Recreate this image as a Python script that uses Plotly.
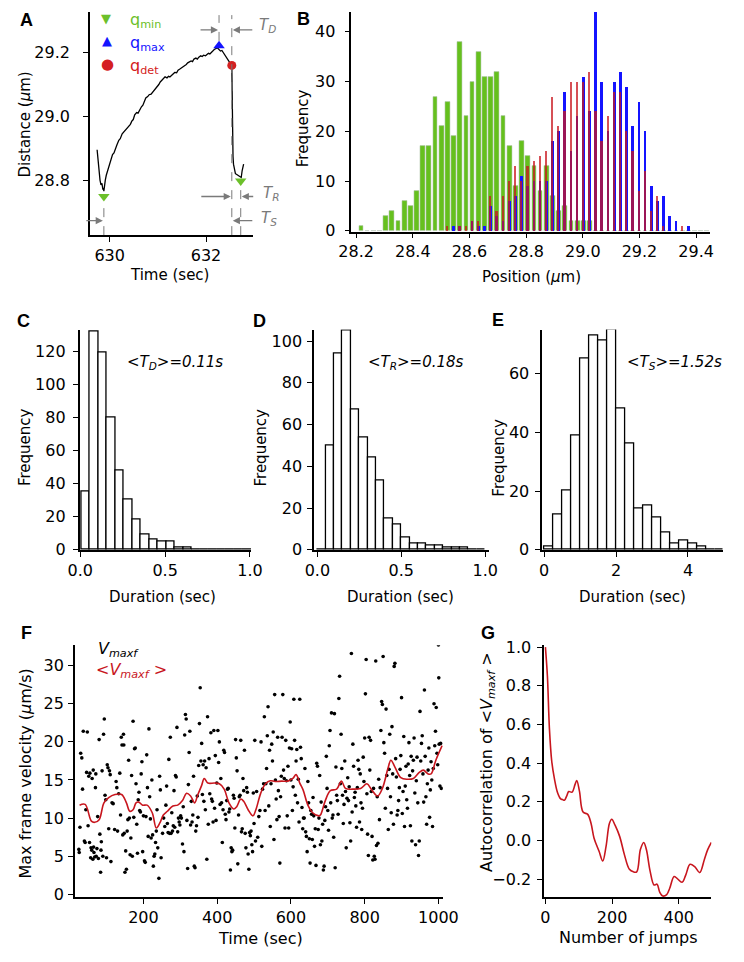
import plotly.graph_objects as go

W, H = 744, 962
def px(x): return x / W
def py(y): return 1 - y / H

# ---------------- Panel A data ----------------
a_trace = [
    (629.74, 28.895), (629.76, 28.86), (629.78, 28.82), (629.80, 28.80), (629.82, 28.785),
    (629.84, 28.79), (629.86, 28.77), (629.87, 28.775), (629.88, 28.765), (629.89, 28.78),
    (629.91, 28.80), (629.93, 28.815), (629.96, 28.83), (629.99, 28.85), (630.03, 28.865),
    (630.06, 28.88), (630.09, 28.885), (630.12, 28.90), (630.15, 28.91), (630.19, 28.925),
    (630.22, 28.93), (630.26, 28.945), (630.29, 28.95), (630.32, 28.955), (630.36, 28.962),
    (630.39, 28.968), (630.43, 28.975), (630.46, 28.985), (630.49, 28.99), (630.52, 29.005),
    (630.56, 29.012), (630.59, 29.01), (630.62, 29.02), (630.66, 29.03), (630.69, 29.035),
    (630.72, 29.05), (630.75, 29.058), (630.79, 29.062), (630.82, 29.068), (630.86, 29.07),
    (630.89, 29.075), (630.92, 29.08), (630.95, 29.088), (630.99, 29.095), (631.02, 29.10),
    (631.05, 29.108), (631.09, 29.115), (631.12, 29.12), (631.15, 29.124), (631.19, 29.121),
    (631.22, 29.126), (631.25, 29.124), (631.29, 29.13), (631.32, 29.133), (631.35, 29.138),
    (631.39, 29.137), (631.42, 29.145), (631.45, 29.148), (631.49, 29.152), (631.52, 29.157),
    (631.55, 29.16), (631.59, 29.163), (631.62, 29.168), (631.65, 29.17), (631.69, 29.174),
    (631.72, 29.172), (631.75, 29.18), (631.79, 29.183), (631.82, 29.18), (631.85, 29.186),
    (631.89, 29.19), (631.92, 29.188), (631.95, 29.192), (631.99, 29.19), (632.02, 29.195),
    (632.05, 29.198), (632.08, 29.196), (632.11, 29.202), (632.14, 29.205), (632.17, 29.21),
    (632.20, 29.212), (632.23, 29.215), (632.25, 29.213), (632.27, 29.21), (632.30, 29.205),
    (632.33, 29.207), (632.36, 29.20), (632.39, 29.19), (632.42, 29.182), (632.45, 29.176),
    (632.48, 29.17), (632.51, 29.165), (632.535, 29.16), (632.54, 29.08), (632.545, 28.98),
    (632.55, 28.92), (632.56, 28.875), (632.57, 28.85), (632.59, 28.83), (632.61, 28.82),
    (632.63, 28.818), (632.65, 28.816), (632.67, 28.815), (632.69, 28.813), (632.71, 28.81),
    (632.73, 28.808), (632.75, 28.83), (632.77, 28.845), (632.78, 28.85),
]
a_qmin_t = [629.88, 632.72]
a_qmin_d = [28.748, 28.797]
a_qmax_t = [632.27]
a_qmax_d = [29.222]
a_qdet_t = [632.535]
a_qdet_d = [29.16]
a_xrange = [629.59, 632.98]
a_yrange = [28.627, 29.328]

# ---------------- Panel B data ----------------
b_bin_start = 28.218
b_bin_width = 0.0218
b_green = [1, 0, 0, 0, 3, 4, 2, 6, 5, 8, 17, 17, 27, 21, 26, 19, 38, 23, 30, 36,
           31, 31, 32, 23, 17, 9, 18, 15, 13, 8, 13, 7, 4, 5, 2, 2, 2, 2, 0, 0,
           0, 0, 0, 0, 0, 0, 0, 0, 0, 0, 0, 0, 0, 0, 0, 0, 0]
b_blue = [0, 0, 0, 0, 0, 0, 0, 0, 0, 0, 0, 0, 0, 0, 0, 1, 1, 0, 2, 1,
          1, 5, 3, 2, 6, 7, 11, 9, 10, 10, 10, 18, 20, 28, 16, 23, 31, 24, 44, 30,
          20, 30, 32, 29, 21, 26, 20, 9, 6, 7, 3, 2, 0, 1, 0, 0, 0]
b_red = [0, 0, 0, 0, 0, 0, 0, 0, 0, 0, 0, 0, 0, 0, 1, 0, 1, 1, 2, 2,
         0, 7, 4, 7, 10, 13, 10, 13, 14, 15, 16, 27, 21, 24, 30, 30, 30, 32, 24, 18,
         23, 28, 28, 20, 16, 8, 12, 4, 7, 1, 0, 0, 1, 0, 0, 0, 0]
b_centers = [round(b_bin_start + i * b_bin_width, 4) for i in range(len(b_green))]

# ---------------- Panels C, D, E data ----------------
c_bin_start, c_bin_width = 0.007, 0.05
c_counts = [35, 132, 119, 80, 48, 30, 18, 9, 6, 5, 5, 1, 1, 0, 0, 0, 0, 0, 0, 0]
d_bin_start, d_bin_width = 0.0, 0.05
d_counts = [0, 50, 94, 105, 67, 54, 44, 33, 15, 12, 6, 3, 3, 2, 2, 1, 1, 1, 0, 0]
e_bin_start, e_bin_width = 0.0, 0.25
e_counts = [1, 12, 20, 39, 65, 73, 71, 75, 48, 36, 14, 15, 11, 6, 2, 3, 2, 1, 0, 0]

def centers(start, width, n):
    return [start + width * (i + 0.5) for i in range(n)]

# ---------------- Panel F data ----------------
f_scatter = [
    (25,5.9),(26,5.5),(28,8.8),(30,18.5),(33,17.9),(35,13.8),(37,21.4),(40,7.0),(42,6.8),(44,11.1),
    (46,16.0),(48,21.3),(50,9.0),(52,15.5),(54,6.8),(55,15.9),(57,4.8),(58,6.1),(60,5.8),(61,15.2),
    (63,4.6),(64,16.3),(65,6.2),(66,5.5),(68,4.9),(70,14.0),(71,15.8),(72,5.0),(74,6.0),(76,10.2),
    (78,4.7),(80,20.3),(82,7.9),(84,2.9),(85,5.8),(86,6.9),(88,16.2),(90,5.0),(92,21.0),(94,23.0),
    (96,13.0),(98,12.4),(100,4.8),
    (102,17.0),(104,16.6),(106,8.6),(108,16.2),(110,15.7),(112,4.3),(115,12.0),(118,11.9),(122,8.5),(126,14.8),
    (128,14.0),(130,8.3),(133,13.2),(136,15.9),(138,10.4),(140,20.6),(142,19.6),(144,7.8),(146,21.0),(147,19.6),
    (148,8.0),(150,2.9),(152,5.7),(154,3.3),(156,8.3),(158,9.8),(160,17.6),(162,10.0),(164,5.2),(166,7.4),
    (168,15.6),(170,5.0),(172,22.7),(174,10.1),(176,19.1),(178,19.2),(180,14.5),(182,9.2),(184,5.4),(186,12.4),
    (188,13.4),(190,11.0),(192,10.8),(194,15.8),(196,17.4),(198,5.6),
    (200,10.3),(203,4.4),(205,4.2),(207,10.2),(209,18.3),(211,14.0),(213,7.6),(215,21.7),(217,12.8),(219,9.9),
    (221,7.4),(223,15.0),(225,7.8),(227,3.7),(229,5.0),(231,5.3),(233,6.8),(235,8.3),(237,11.1),(239,6.1),
    (242,2.1),(244,15.5),(246,13.7),(248,4.8),(252,8.0),(255,10.0),(258,8.9),(261,11.7),(263,14.2),(265,9.3),
    (267,8.1),(269,17.7),(271,8.0),(273,20.6),(275,8.0),(277,10.7),(279,8.3),(281,9.0),(283,13.6),(285,8.8),
    (287,15.6),(289,15.4),(291,21.9),(293,8.2),(295,10.0),(297,9.5),(299,9.1),
    (301,10.3),(303,10.0),(306,6.6),(308,11.5),(310,5.6),(312,20.9),(314,23.6),(316,23.0),(318,9.7),(320,3.4),
    (322,14.4),(324,18.6),(326,21.4),(328,9.1),(330,12.2),(332,9.5),(334,10.4),(336,15.5),(338,3.7),(340,3.5),
    (342,8.3),(344,9.0),(346,12.9),(348,10.1),(350,16.9),(352,22.4),(354,27.1),(356,17.5),(358,19.8),(360,13.1),
    (362,17.0),(364,12.2),(366,17.5),(368,11.1),(370,16.6),(372,4.6),(374,23.3),(376,9.2),(378,17.8),(380,13.2),
    (383,21.2),(385,12.5),(387,12.2),(389,9.5),(391,21.5),(393,11.3),(395,18.2),(397,9.7),(399,14.6),
    (402,21.5),(404,17.3),(406,20.0),(408,11.8),(410,15.2),(412,12.0),(414,6.8),(416,11.1),(418,18.9),(420,18.6),
    (422,10.5),(424,9.8),(426,12.3),(428,13.8),(430,13.9),(432,10.8),(434,11.2),(436,3.2),(438,6.1),(440,5.6),
    (442,5.8),(444,13.0),(446,12.6),(448,8.7),(450,20.3),(452,17.9),(454,16.2),(456,4.0),(458,10.4),(460,12.8),
    (462,13.0),(464,20.2),(466,8.2),(468,8.6),(470,15.2),(472,13.6),(474,18.9),(476,8.0),(478,6.1),(480,14.0),
    (482,13.4),(484,5.3),(486,3.3),(488,8.1),(490,7.7),(492,8.3),(494,6.5),(496,5.6),(498,13.3),(500,9.3),
    (502,20.2),(504,7.0),(507,13.5),(510,7.5),(513,10.2),(516,11.0),(519,20.0),(521,6.3),(523,13.8),(526,14.5),
    (528,23.3),(530,11.0),(532,14.5),(534,16.5),(536,20.8),(538,24.6),(540,11.6),(542,18.9),(544,8.9),(546,14.5),
    (548,19.7),(550,17.5),(552,21.3),(554,7.2),(556,26.2),(558,15.0),(560,12.5),(562,9.8),(564,20.6),(566,13.6),
    (568,10.2),(570,4.1),(572,12.8),(574,15.5),(576,20.6),(578,26.2),(580,16.3),(582,15.2),(584,8.7),(586,20.2),
    (588,14.9),(590,10.3),(592,16.8),(594,8.7),(596,19.2),(598,22.6),
    (600,15.0),(602,19.1),(604,11.0),(606,14.1),(608,25.6),(610,20.2),(612,13.0),(614,17.5),(616,19.0),(618,12.0),
    (620,15.1),(622,9.5),(624,25.6),(626,19.3),(628,17.8),(630,11.4),(632,8.6),(634,10.0),(636,10.0),(638,16.5),
    (640,8.2),(642,7.6),(644,5.6),(646,14.8),(648,12.0),(650,7.3),(652,4.1),(654,11.0),(656,10.5),(658,7.2),
    (660,12.7),(662,10.3),(664,6.3),(666,8.6),(668,3.8),(670,17.2),(672,16.8),(674,8.5),(676,10.0),(678,15.6),
    (680,6.5),(682,12.1),(684,7.0),(686,9.2),(688,3.2),(690,3.7),(692,9.7),(694,11.5),(696,18.1),(698,13.9),
    (700,11.0),(702,8.4),(704,19.5),(706,21.5),(708,12.0),(710,23.8),(712,10.0),(714,10.4),(716,7.5),(718,23.7),
    (720,3.5),(722,16.7),(724,13.0),(726,12.3),(728,10.5),(730,25.7),(732,28.6),(734,14.5),(736,21.0),(738,16.5),
    (740,13.0),(742,9.3),(744,11.8),(746,17.5),(748,13.5),(750,6.1),(752,12.6),(754,15.3),(756,12.3),(758,14.1),
    (760,9.4),(762,7.0),(764,31.6),(766,10.8),(768,19.7),(770,16.8),(772,12.7),(774,13.4),(776,11.6),(778,8.8),
    (780,14.0),(782,17.6),(784,16.4),(786,9.5),(788,15.8),(790,12.0),(792,8.5),(794,11.3),(796,18.0),(798,14.8),
    (800,20.5),(802,26.3),(804,30.8),(806,13.2),(808,7.9),(810,5.1),(812,20.6),(814,16.3),(816,20.2),(818,13.5),
    (820,7.6),(822,4.5),(824,13.9),(826,5.0),(828,4.6),(830,30.6),(832,6.4),(834,12.8),(836,6.7),(838,15.1),
    (840,9.8),(842,14.0),(844,21.5),(846,25.3),(848,24.9),(850,31.2),(852,19.9),(854,18.5),(856,11.3),(858,24.3),
    (860,15.6),(862,13.9),(864,8.5),(866,16.4),(868,21.0),(870,12.8),(872,10.7),(874,22.0),(876,15.8),(878,9.2),
    (880,29.9),(882,30.3),(884,17.8),(886,15.4),(888,10.4),(890,11.0),(892,12.3),(894,14.0),(896,16.4),(898,18.2),
    (900,25.8),(902,10.6),(904,13.5),(906,20.7),(908,8.9),(910,14.2),(912,16.8),(914,12.4),(916,11.3),(918,17.1),
    (920,19.9),(922,15.6),(924,9.0),(926,18.1),(928,7.0),(930,16.2),(932,17.6),(934,20.5),(936,13.3),(938,6.5),
    (940,14.9),(942,18.0),(944,12.0),(946,5.1),(948,7.0),(950,24.0),(952,17.5),(954,19.8),(956,20.8),(958,15.8),
    (960,12.1),(962,26.8),(964,18.1),(966,12.8),(968,9.2),(970,14.5),(972,16.3),(974,19.2),(976,10.1),(978,13.7),
    (980,17.4),(982,15.0),(984,8.9),(986,16.5),(988,25.0),(990,19.5),(992,21.4),(994,24.5),(996,18.5),(998,17.0),
    (1000,32.7),(1001,28.4),(1002,19.7),(1004,14.2),(1006,19.8),(1008,13.9),
]
f_avg_t = [27, 42, 59, 68, 80, 93, 106, 123, 141, 154, 163, 172, 180, 187, 198, 210, 224, 235, 245, 254,
           265, 280, 293, 306, 317, 328, 339, 347, 358, 365, 375, 393, 406, 419, 432, 445, 453, 464, 472, 484,
           497, 505, 518, 531, 544, 557, 575, 592, 605, 614, 624, 633, 646, 659, 676, 680, 694, 707, 724, 737,
           748, 767, 789, 806, 819, 835, 848, 863, 871, 882, 898, 915, 932, 948, 959, 972, 980, 993, 1010]
f_avg_v = [11.7, 11.8, 9.6, 9.45, 9.8, 12.0, 12.7, 13.1, 13.1, 12.0, 10.9, 11.1, 12.0, 12.1, 11.7, 11.7, 10.7, 8.7, 9.4, 10.4,
           10.9, 11.6, 11.7, 12.3, 13.25, 12.9, 12.0, 13.0, 14.3, 15.2, 14.6, 14.6, 14.5, 13.8, 12.0, 11.2, 11.5, 12.5, 12.2, 11.1,
           10.3, 11.1, 13.25, 14.5, 14.9, 14.8, 14.85, 14.85, 15.2, 15.7, 14.6, 13.7, 11.7, 10.7, 10.3, 10.4, 12.4, 13.6, 13.8, 14.85,
           13.9, 13.8, 13.9, 14.5, 13.7, 12.9, 13.9, 16.5, 17.6, 16.7, 15.3, 15.1, 15.2, 16.0, 16.3, 15.8, 15.8, 17.6, 19.5]

# ---------------- Panel G data ----------------
g_lag = [0, 6, 12, 19, 27, 36, 46, 51, 57, 65, 70, 80, 89, 94, 102, 113, 127, 137, 146, 161,
         172, 182, 192, 199, 209, 223, 237, 252, 264, 274, 285, 295, 303, 314, 326, 335, 343, 352, 364, 373,
         386, 395, 410, 421, 434, 448, 463, 477, 487, 498]
g_acf = [1.0, 0.85, 0.58, 0.41, 0.32, 0.25, 0.215, 0.212, 0.208, 0.235, 0.253, 0.25, 0.29, 0.31, 0.257, 0.147, 0.135, 0.088, 0.012, -0.056,
         -0.106, -0.03, 0.088, 0.11, 0.079, 0.02, -0.073, -0.149, -0.162, -0.162, -0.047, -0.01, -0.047, -0.157, -0.23, -0.226, -0.267, -0.287, -0.28, -0.247,
         -0.186, -0.196, -0.216, -0.179, -0.123, -0.135, -0.166, -0.098, -0.047, -0.01]

# ---------------- colours ----------------
GREEN = "#66c01e"
BLUE = "#1414ff"
RED = "#c8161e"
GRAY = "#7a7a7a"
FONT = "DejaVu Sans"

fig = go.Figure()

# Panel A
fig.add_trace(go.Scatter(x=[p[0] for p in a_trace], y=[p[1] for p in a_trace], mode="lines",
                         line=dict(color="black", width=1.3), xaxis="x", yaxis="y"))
fig.add_trace(go.Scatter(x=a_qmin_t, y=a_qmin_d, mode="markers",
                         marker=dict(symbol="triangle-down", size=10, color="#6cc02a"), xaxis="x", yaxis="y"))
fig.add_trace(go.Scatter(x=a_qmax_t, y=a_qmax_d, mode="markers",
                         marker=dict(symbol="triangle-up", size=10, color=BLUE), xaxis="x", yaxis="y"))
fig.add_trace(go.Scatter(x=a_qdet_t, y=a_qdet_d, mode="markers",
                         marker=dict(symbol="circle", size=9, color="#d42020"), xaxis="x", yaxis="y"))

# Panel B
fig.add_trace(go.Bar(x=b_centers, y=b_green, width=0.0168, marker=dict(color=GREEN, line=dict(color="rgba(185,200,185,0.9)", width=0.6)),
                     xaxis="x2", yaxis="y2"))
fig.add_trace(go.Bar(x=b_centers, y=b_blue, width=0.0095, marker=dict(color=BLUE, line=dict(width=0)),
                     xaxis="x2", yaxis="y2"))
fig.add_trace(go.Bar(x=b_centers, y=b_red, width=0.006, opacity=0.75, marker=dict(color=RED, line=dict(width=0)),
                     xaxis="x2", yaxis="y2"))

# Panels C, D, E
for counts, start, width, xa, ya in [(c_counts, c_bin_start, c_bin_width, "x3", "y3"),
                                     (d_counts, d_bin_start, d_bin_width, "x4", "y4"),
                                     (e_counts, e_bin_start, e_bin_width, "x5", "y5")]:
    fig.add_trace(go.Bar(x=centers(start, width, len(counts)), y=counts, width=width,
                         marker=dict(color="white", line=dict(color="black", width=1.3)),
                         xaxis=xa, yaxis=ya))

# Panel F
fig.add_trace(go.Scatter(x=[p[0] for p in f_scatter], y=[p[1] for p in f_scatter], mode="markers",
                         marker=dict(color="black", size=3.6), xaxis="x6", yaxis="y6"))
fig.add_trace(go.Scatter(x=f_avg_t, y=f_avg_v, mode="lines", line=dict(color=RED, width=1.6, shape="spline"),
                         xaxis="x6", yaxis="y6"))

# Panel G
fig.add_trace(go.Scatter(x=g_lag, y=g_acf, mode="lines", line=dict(color=RED, width=1.6, shape="spline"),
                         xaxis="x7", yaxis="y7"))


def axis(dom, rng, tickvals, anchor, fmt=None, so=0):
    d = dict(domain=dom, range=rng, tickvals=tickvals, anchor=anchor, showline=True, linecolor="black",
             linewidth=1.5, ticks="outside", ticklen=5, tickwidth=1.3, tickcolor="black", showgrid=False,
             zeroline=False, tickfont=dict(family=FONT, size=16, color="black"), fixedrange=True,
             ticklabelstandoff=so)
    if fmt:
        d["tickformat"] = fmt
    return d

yA = [py(232), py(5)]
yCDE = [py(552.3), py(328)]
yFG = [py(905), py(649)]

layout = dict(
    width=W, height=H, margin=dict(l=0, r=0, t=0, b=0), paper_bgcolor="white", plot_bgcolor="white",
    showlegend=False, barmode="overlay", bargap=0,
    xaxis=axis([px(80), px(250)], a_xrange, [630, 632], "y"),
    yaxis=axis(yA, a_yrange, [28.8, 29.0, 29.2], "x", ".1f", so=10),
    xaxis2=axis([px(352), px(725)], [28.183, 29.448], [28.2, 28.4, 28.6, 28.8, 29.0, 29.2, 29.4], "y2", ".1f"),
    yaxis2=axis([py(228.3), py(5)], [-0.15, 44], [0, 10, 20, 30, 40], "x2", so=6),
    xaxis3=axis([px(69.3), px(248)], [-0.004, 1.008], [0, 0.5, 1.0], "y3", ".1f"),
    yaxis3=axis(yCDE, [-0.36, 133.1], [0, 20, 40, 60, 80, 100, 120], "x3", so=4),
    xaxis4=axis([px(313.3), px(495)], [-0.0195, 1.021], [0, 0.5, 1.0], "y4", ".1f"),
    yaxis4=axis(yCDE, [-0.14, 105.5], [0, 20, 40, 60, 80, 100], "x4", so=2),
    xaxis5=axis([px(550.7), px(738.3)], [-0.053, 4.96], [0, 2, 4], "y5"),
    yaxis5=axis(yCDE, [-0.1, 74.9], [0, 20, 40, 60], "x5", so=3),
    xaxis6=axis([px(64.3), px(447.3)], [14, 1012], [200, 400, 600, 800, 1000], "y6"),
    yaxis6=axis(yFG, [-0.34, 32.68], [0, 5, 10, 15, 20, 25, 30], "x6", so=1),
    xaxis7=axis([px(552.7), px(726.7)], [-3.75, 498], [0, 200, 400], "y7"),
    yaxis7=axis(yFG, [-0.292, 1.01], [-0.2, 0.0, 0.2, 0.4, 0.6, 0.8, 1.0], "x7", ".1f", so=3),
)

ann = []
def text(x, y, s, size=15, color="black", angle=0, xanchor="center", family=FONT):
    ann.append(dict(x=px(x), y=py(y), xref="paper", yref="paper", text=s, showarrow=False,
                    font=dict(family=family, size=size, color=color), textangle=angle,
                    xanchor=xanchor, yanchor="middle"))

# panel letters
for lab, x, y in [("A", 14, 13), ("B", 302, 12), ("C", 11, 319), ("D", 256, 319), ("E", 505, 318),
                  ("F", 14, 637), ("G", 494, 637)]:
    text(x, y, "<b>%s</b>" % lab, size=18, family="Liberation Sans")

# axis titles
text(12, 120, "Distance (<i>µ</i>m)", angle=-90)
text(163, 273, "Time (sec)")
text(302, 123, "Frequency", angle=-90)
text(540, 275, "Position (<i>µ</i>m)")
for cx, fy in [(12, 448), (258, 448), (506, 458)]:
    text(cx, fy, "Frequency", angle=-90)
text(156, 600, "Duration (sec)")
text(403, 600, "Duration (sec)")
text(645, 600, "Duration (sec)")
text(13, 779, "Max frame velocity (<i>µ</i>m/s)", size=16, angle=-90)
text(258, 947, "Time (sec)", size=16)
text(493, 768, "Autocorrelation of &lt;<i>V<sub>maxf</sub></i> &gt;", size=16, angle=-90)
text(640, 946, "Number of jumps", size=16)

# Panel A legend
text(97, 12, "▼", size=13, color="#6cc02a")
text(98, 34, "▲", size=13, color=BLUE)
text(98, 58, "●", size=15, color="#d42020")
text(120, 14, "q<sub>min</sub>", size=16, color="#6cc02a", xanchor="left")
text(120, 37, "q<sub>max</sub>", size=16, color=BLUE, xanchor="left")
text(120, 60, "q<sub>det</sub>", size=16, color="#d42020", xanchor="left")

# T labels
text(254, 19, "<i>T<sub>D</sub></i>", size=15, color=GRAY, xanchor="left")
text(258, 190, "<i>T<sub>R</sub></i>", size=15, color=GRAY, xanchor="left")
text(256, 215, "<i>T<sub>S</sub></i>", size=15, color=GRAY, xanchor="left")

# means
text(169, 362, "<i>&lt;T<sub>D</sub>&gt;=0.11s</i>", size=15)
text(419, 362, "<i>&lt;T<sub>R</sub>&gt;=0.18s</i>", size=15)
text(688, 362, "<i>&lt;T<sub>S</sub>&gt;=1.52s</i>", size=15)

# F legend
text(86, 653, "<i>V<sub>maxf</sub></i>", size=16, xanchor="left")
text(84, 675, "<i>&lt;V<sub>maxf</sub> &gt;</i>", size=16, color=RED, xanchor="left")

# arrows in panel A (heads at the dashed lines)
def arrow(xdata, ypix, dx):
    ann.append(dict(x=xdata, y=py(ypix), xref="x", yref="paper", ax=dx, ay=0, axref="pixel", ayref="pixel",
                    text="", showarrow=True, arrowhead=2, arrowsize=1.1, arrowwidth=1.3, arrowcolor=GRAY,
                    standoff=1))
arrow(a_qmax_t[0], 23.3, -20)
arrow(a_qdet_t[0], 23.3, 22)
arrow(a_qdet_t[0], 192.7, -32)
arrow(a_qmin_t[1], 192.7, 14)
arrow(a_qmin_t[0], 217.3, -19)
arrow(a_qdet_t[0], 217.3, 22)

shapes = []
dash = dict(color=GRAY, width=1, dash="dash")
shapes.append(dict(type="line", xref="x", yref="y", x0=a_qmin_t[0], x1=a_qmin_t[0], y0=a_yrange[0], y1=a_qmin_d[0] - 0.015, line=dash))
shapes.append(dict(type="line", xref="x", yref="y", x0=a_qmin_t[1], x1=a_qmin_t[1], y0=a_yrange[0], y1=a_qmin_d[1] - 0.015, line=dash))
shapes.append(dict(type="line", xref="x", yref="y", x0=a_qmax_t[0], x1=a_qmax_t[0], y0=a_qmax_d[0] + 0.015, y1=29.318, line=dash))
shapes.append(dict(type="line", xref="x", yref="y", x0=a_qdet_t[0], x1=a_qdet_t[0], y0=a_yrange[0], y1=29.318, line=dash))

layout["annotations"] = ann
layout["shapes"] = shapes
fig.update_layout(**layout)
fig.write_html("out.html", config={"displayModeBar": False},
               post_script="document.body.style.margin='0px';")
